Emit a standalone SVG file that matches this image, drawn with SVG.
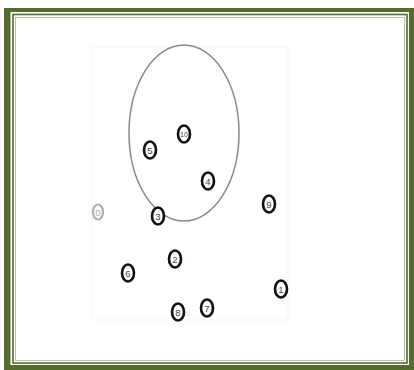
<svg xmlns="http://www.w3.org/2000/svg" width="414" height="370" viewBox="0 0 414 370">
<style>
.n ellipse{fill:#fff;stroke:#111;stroke-width:2.6}
.n text{font-family:"Liberation Sans",Arial,sans-serif;font-size:9.5px;fill:#444;text-anchor:middle;dominant-baseline:central}
.g ellipse{stroke:#b0b0b0;stroke-width:2.2}
.g text{fill:#aaa}
</style>
<rect x="0" y="0" width="414" height="370" fill="#fff"/>
<rect x="4" y="8" width="410" height="362" fill="#556b2f"/>
<rect x="10.5" y="12" width="398.5" height="353" fill="#fff"/>
<rect x="13" y="14.5" width="394" height="348.5" fill="none" stroke="#556b2f" stroke-width="1.6"/>
<rect x="15.5" y="17.5" width="389" height="343" fill="#fff" stroke="#a9b49a" stroke-width="0.8"/>
<rect x="92" y="47" width="196" height="273" fill="none" stroke="#f5f5f5" stroke-width="1"/>
<g id="connectors">
<ellipse cx="184" cy="133" rx="55" ry="88" fill="none" stroke="#8a8a8a" stroke-width="1.5"/>
</g>
<g id="n0" class="n g"><ellipse cx="98" cy="212" rx="5" ry="7.5"/><text x="98" y="212">0</text></g>
<g id="n1" class="n"><ellipse cx="281" cy="289" rx="6" ry="8.5"/><text x="281" y="289">1</text></g>
<g id="n2" class="n"><ellipse cx="175" cy="259" rx="6" ry="8.5"/><text x="175" y="259">2</text></g>
<g id="n3" class="n"><ellipse cx="158" cy="216" rx="6" ry="8.5"/><text x="158" y="216">3</text></g>
<g id="n4" class="n"><ellipse cx="208" cy="181" rx="6" ry="8.5"/><text x="208" y="181">4</text></g>
<g id="n5" class="n"><ellipse cx="150" cy="150" rx="6" ry="8.5"/><text x="150" y="150">5</text></g>
<g id="n6" class="n"><ellipse cx="128" cy="273" rx="6" ry="8.5"/><text x="128" y="273">6</text></g>
<g id="n7" class="n"><ellipse cx="207" cy="308" rx="6" ry="8.5"/><text x="207" y="308">7</text></g>
<g id="n8" class="n"><ellipse cx="178" cy="312" rx="6" ry="8.5"/><text x="178" y="312">8</text></g>
<g id="n9" class="n"><ellipse cx="269" cy="204" rx="6" ry="8.5"/><text x="269" y="204">9</text></g>
<g id="n10" class="n"><ellipse cx="184" cy="134" rx="6" ry="8.5"/><text x="184" y="134" style="font-size:7px">10</text></g>
</svg>
